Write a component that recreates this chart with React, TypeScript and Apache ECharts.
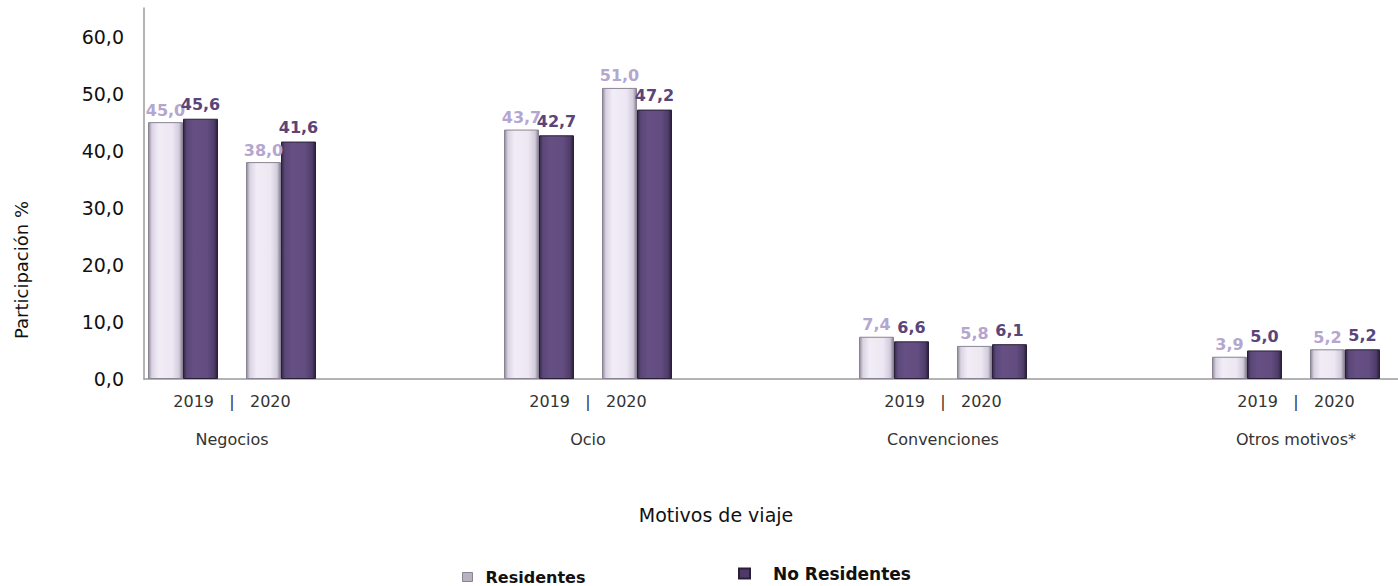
import React, { useEffect, useRef } from 'react';
import * as echarts from 'echarts';

// ---- data ----
const groups = ['Negocios', 'Ocio', 'Convenciones', 'Otros motivos*'];
const years = ['2019', '2020'];
const residentes = [45.0, 38.0, 43.7, 51.0, 7.4, 5.8, 3.9, 5.2];
const noResidentes = [45.6, 41.6, 42.7, 47.2, 6.6, 6.1, 5.0, 5.2];
const yMin = 0;
const yMax = 65;
const yInterval = 10;
const seriesNames = ['Residentes', 'No Residentes'];
const yAxisTitle = 'Participación %';
const xAxisTitle = 'Motivos de viaje';

// ---- layout / style ----
const FONT = '"DejaVu Sans", Arial, sans-serif';
const GRID_TOP = 8;
const GRID_BOTTOM = 207;
const groupLeft = [134, 490, 845, 1198];
const groupWidth = 196;

const fmt = (v: number) => v.toFixed(1).replace('.', ',');

const resColor = new echarts.graphic.LinearGradient(0, 0, 1, 0, [
  { offset: 0, color: '#8e8897' },
  { offset: 0.1, color: '#d9d3e2' },
  { offset: 0.3, color: '#f1edf6' },
  { offset: 0.7, color: '#ece7f2' },
  { offset: 0.9, color: '#d2cbdc' },
  { offset: 1, color: '#857e8f' },
]);
const noResColor = new echarts.graphic.LinearGradient(0, 0, 1, 0, [
  { offset: 0, color: '#35284a' },
  { offset: 0.1, color: '#5b4778' },
  { offset: 0.3, color: '#654f83' },
  { offset: 0.7, color: '#624c80' },
  { offset: 0.9, color: '#4f3d69' },
  { offset: 1, color: '#291d39' },
]);

function buildOption() {
  const grids: any[] = [
    { left: 144, right: 0, top: GRID_TOP, bottom: GRID_BOTTOM, containLabel: false, outerBoundsMode: 'none' },
  ];
  const xAxes: any[] = [
    {
      type: 'category',
      gridIndex: 0,
      position: 'bottom',
      data: [''],
      axisLine: { show: true, lineStyle: { color: '#9b9b9b', width: 1.5 } },
      axisTick: { show: false },
      axisLabel: { show: false },
    },
  ];
  const yAxes: any[] = [
    {
      type: 'value',
      gridIndex: 0,
      position: 'left',
      min: yMin,
      max: yMax,
      interval: yInterval,
      axisLine: { show: true, lineStyle: { color: '#9b9b9b', width: 1.5 } },
      axisTick: { show: false },
      splitLine: { show: false },
      axisLabel: {
        showMaxLabel: false,
        formatter: (v: number) => (v > 60 ? '' : fmt(v)),
        fontSize: 19,
        fontFamily: FONT,
        color: '#111',
        margin: 20,
      },
    },
  ];
  const series: any[] = [];

  groups.forEach((g, gi) => {
    const gridIndex = gi + 1;
    grids.push({
      left: groupLeft[gi],
      width: groupWidth,
      top: GRID_TOP,
      bottom: GRID_BOTTOM,
      containLabel: false,
      outerBoundsMode: 'none',
    });
    const barAxisIndex = xAxes.length;
    xAxes.push({
      type: 'category',
      gridIndex,
      position: 'bottom',
      data: years,
      axisLine: { show: false },
      axisTick: { show: false },
      axisLabel: { show: false },
    });
    xAxes.push({
      type: 'category',
      gridIndex,
      position: 'bottom',
      offset: 0,
      data: [years.join('   |   ') + '\n\n' + g],
      axisLine: { show: false },
      axisTick: { show: false },
      axisLabel: {
        interval: 0,
        margin: 13,
        fontSize: 16,
        lineHeight: 19,
        fontFamily: FONT,
        color: '#333',
      },
    });
    const yIdx = yAxes.length;
    yAxes.push({
      type: 'value',
      gridIndex,
      position: 'left',
      min: yMin,
      max: yMax,
      interval: yInterval,
      show: false,
    });

    const resVals = residentes.slice(gi * 2, gi * 2 + 2);
    const noResVals = noResidentes.slice(gi * 2, gi * 2 + 2);
    series.push({
      name: seriesNames[0],
      type: 'bar',
      xAxisIndex: barAxisIndex,
      yAxisIndex: yIdx,
      data: resVals,
      barWidth: 35,
      barGap: '0%',
      itemStyle: { color: resColor, borderColor: '#8a8393', borderWidth: 1 },
      label: {
        show: true,
        position: 'top',
        distance: 4,
        formatter: (p: any) => fmt(p.value),
        color: '#b4a6cf',
        fontWeight: 'bold',
        fontSize: 16,
        fontFamily: FONT,
      },
    });
    series.push({
      name: seriesNames[1],
      type: 'bar',
      xAxisIndex: barAxisIndex,
      yAxisIndex: yIdx,
      data: noResVals,
      barWidth: 35,
      barGap: '0%',
      itemStyle: { color: noResColor, borderColor: '#2a1f38', borderWidth: 1 },
      label: {
        show: true,
        position: 'top',
        distance: 6,
        formatter: (p: any) => fmt(p.value),
        color: '#5a4478',
        fontWeight: 'bold',
        fontSize: 16,
        fontFamily: FONT,
      },
    });
  });

  const legendText = { fontSize: 16, fontWeight: 'bold', fontFamily: FONT, color: '#111' };

  return {
    animation: false,
    backgroundColor: '#ffffff',
    grid: grids,
    xAxis: xAxes,
    yAxis: yAxes,
    series,
    legend: [
      {
        data: [{ name: seriesNames[0], itemStyle: { color: '#b8b1c2', borderColor: '#8a8393', borderWidth: 1 } }],
        left: 457,
        top: 564,
        icon: 'rect',
        itemWidth: 10,
        itemHeight: 9,
        itemGap: 15,
        textStyle: { ...legendText, padding: [0, 0, 0, 8] },
      },
      {
        data: [{ name: seriesNames[1], itemStyle: { color: '#4d3a68' } }],
        left: 733,
        top: 560,
        icon: 'rect',
        itemWidth: 11,
        itemHeight: 10,
        textStyle: { ...legendText, fontSize: 17, padding: [0, 0, 0, 18] },
      },
    ],
    graphic: [
      {
        type: 'text',
        x: 21,
        y: 270,
        rotation: Math.PI / 2,
        style: {
          text: yAxisTitle,
          textAlign: 'center',
          textVerticalAlign: 'middle',
          fontSize: 18,
          fontFamily: FONT,
          fill: '#111',
        },
      },
      {
        type: 'text',
        x: 716,
        y: 515,
        style: {
          text: xAxisTitle,
          textAlign: 'center',
          textVerticalAlign: 'middle',
          fontSize: 19,
          fontFamily: FONT,
          fill: '#111',
        },
      },
    ],
  };
}

export default function App() {
  const ref = useRef<HTMLDivElement>(null);
  useEffect(() => {
    if (!ref.current) return;
    const chart = echarts.init(ref.current, undefined, { renderer: 'svg' });
    chart.setOption(buildOption() as any);
    return () => chart.dispose();
  }, []);
  return (
    <div
      ref={ref}
      style={{ position: 'absolute', left: 0, top: 0, width: 1398, height: 586, background: '#fff' }}
    />
  );
}
